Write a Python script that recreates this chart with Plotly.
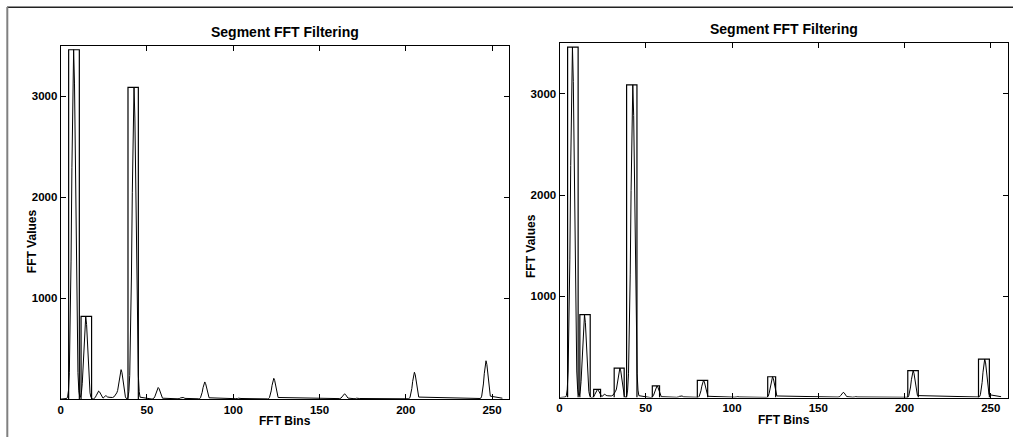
import plotly.graph_objects as go

# ---- data ----
spec_bins = [0, 3, 3.5, 4, 4.5, 5, 5.5, 6, 6.5, 7, 7.5, 8, 8.5, 9, 9.5, 10, 10.5, 11, 11.5,
             12, 12.5, 13, 13.5, 14, 14.5, 15, 15.5, 16, 16.5, 17, 17.5, 18, 18.5,
             19, 19.5, 20, 20.5, 21, 21.5, 22, 22.5, 23, 23.5, 24, 24.5, 25, 25.5, 26, 26.5,
             27, 28, 29, 30, 31, 31.5, 32, 32.5, 33, 33.5, 34, 34.5, 35, 35.5, 36, 36.5, 37,
             37.5, 38, 38.5, 39, 39.5, 40, 40.5, 41, 41.5, 42, 42.5, 43, 43.5, 44, 44.5, 45,
             45.5, 46, 53, 53.5, 54, 54.5, 55, 55.5, 56, 56.5, 57, 57.5, 58, 58.5, 59,
             68, 68.5, 69, 69.5, 70, 70.5, 71, 71.5, 72,
             80, 80.5, 81, 81.5, 82, 82.5, 83, 83.5, 84, 84.5, 85, 85.5, 86,
             101.5, 102, 102.5, 103, 103.5, 104, 104.5,
             120, 120.5, 121, 121.5, 122, 122.5, 123, 123.5, 124, 124.5, 125, 125.5, 126,
             161.5, 162, 162.5, 163, 163.5, 164, 164.5, 165, 165.5, 166, 166.5,
             170, 170.5, 171, 171.5, 172, 172.5, 173,
             201.5, 202, 202.5, 203, 203.5, 204, 204.5, 205, 205.5, 206, 206.5, 207, 207.5,
             243, 243.5, 244, 244.5, 245, 245.5, 246, 246.5, 247, 247.5, 248, 248.5, 249, 256]
spec_vals = [0, 0, 6, 21, 83, 263, 665, 1368, 2293, 3124, 3463, 3124, 2293, 1368, 665, 263, 83, 26, 20,
             62, 157, 324, 543, 740, 820, 740, 543, 324, 157, 62, 20, 5, 0,
             2, 6, 15, 32, 53, 72, 80, 72, 53, 32, 15, 10, 15, 30, 34, 30, 22,
             18, 14, 16, 24, 36, 50, 62, 85, 135, 200, 264, 292, 264, 194, 116, 57, 22,
             7, 2, 19, 74, 235, 593, 1220, 2045, 2786, 3089, 2786, 2045, 1220, 593, 235, 74,
             19, 0, 3, 9, 22, 45, 76, 104, 115, 104, 76, 45, 22, 9, 3,
             3, 7, 12, 16, 18, 16, 12, 7, 3,
             4, 13, 33, 67, 113, 153, 170, 153, 113, 67, 33, 13, 4,
             2, 6, 9, 10, 9, 6, 2,
             5, 16, 40, 81, 136, 186, 206, 186, 136, 81, 40, 16, 5,
             4, 10, 21, 34, 47, 52, 47, 34, 21, 10, 4,
             3, 6, 9, 10, 9, 6, 3,
             6, 20, 51, 105, 176, 240, 266, 240, 176, 105, 51, 20, 6,
             9, 29, 73, 150, 251, 343, 380, 343, 251, 150, 73, 29, 9, 0]

left_box_x0 = [4.6, 11.8, 39.0]
left_box_x1 = [10.8, 17.9, 45.0]
left_box_h = [3463, 820, 3089]

right_box_x0 = [4.7, 11.8, 19.8, 31.7, 38.9, 53.8, 79.9, 120.7, 201.9, 242.9]
right_box_x1 = [10.8, 17.8, 23.8, 37.5, 44.9, 58.0, 85.9, 125.3, 208.0, 249.2]
right_box_h = [3463, 820, 82, 292, 3089, 115, 170, 206, 266, 380]

x_ticks = [0, 50, 100, 150, 200, 250]
y_ticks = [1000, 2000, 3000]
title_text = "Segment FFT Filtering"
xlabel = "FFT Bins"
ylabel = "FFT Values"

W, H = 1013, 437
FONT = "Liberation Sans"


def px(x):
    return x / W


def py(y):
    return 1 - y / H


fig = go.Figure()


def add_boxes(x0s, x1s, hs, xa, ya):
    xs, ys = [], []
    for a, b, h in zip(x0s, x1s, hs):
        xs += [a, a, b, b, None]
        ys += [0, h, h, 0, None]
    fig.add_trace(go.Scatter(x=xs, y=ys, mode="lines", xaxis=xa, yaxis=ya,
                             line=dict(color="black", width=1.2), showlegend=False,
                             hoverinfo="skip"))


for xa, ya, bx0, bx1, bh in [("x", "y", left_box_x0, left_box_x1, left_box_h),
                             ("x2", "y2", right_box_x0, right_box_x1, right_box_h)]:
    add_boxes(bx0, bx1, bh, xa, ya)
    fig.add_trace(go.Scatter(x=spec_bins, y=spec_vals, mode="lines", xaxis=xa, yaxis=ya,
                             line=dict(color="black", width=1), showlegend=False))

tickfont = dict(family=FONT, size=11.5, color="black")
common_x = dict(range=[0, 260], tickvals=x_ticks, ticktext=[f"<b>{v}</b>" for v in x_ticks],
                ticks="inside", ticklen=5, tickcolor="black",
                showline=True, linecolor="black", linewidth=1, mirror="ticks",
                showgrid=False, zeroline=False, tickfont=tickfont, automargin=False)
common_y = dict(range=[0, 3500], tickvals=y_ticks, ticktext=[f"<b>{v}</b>" for v in y_ticks],
                ticks="inside", ticklen=5, tickcolor="black",
                showline=True, linecolor="black", linewidth=1, mirror="ticks",
                showgrid=False, zeroline=False, tickfont=tickfont, automargin=False)

L1, R1, T1, B1 = 60.7, 509.3, 46.0, 399.1
L2, R2, T2, B2 = 559.5, 1008.0, 43.3, 397.6

fig.update_layout(
    width=W, height=H, margin=dict(l=0, r=0, t=0, b=0),
    paper_bgcolor="white", plot_bgcolor="white",
    xaxis=dict(domain=[px(L1), px(R1)], anchor="y", **common_x),
    yaxis=dict(domain=[py(B1), py(T1)], anchor="x", **common_y),
    xaxis2=dict(domain=[px(L2), px(R2)], anchor="y2", **common_x),
    yaxis2=dict(domain=[py(B2), py(T2)], anchor="x2", **common_y),
)

ann = []
for (L, R, T, B, ylab_cy) in [(L1, R1, T1, B1, 241), (L2, R2, T2, B2, 246)]:
    cx = (L + R) / 2
    ann.append(dict(text=title_text, x=px(cx), y=py(T - 14), xref="paper", yref="paper",
                    showarrow=False, xanchor="center", yanchor="middle",
                    font=dict(family=FONT, size=14, color="black", weight="bold")))
    ann.append(dict(text=xlabel, x=px(cx), y=py(B + 22), xref="paper", yref="paper",
                    showarrow=False, xanchor="center", yanchor="middle",
                    font=dict(family=FONT, size=12, color="black", weight="bold")))
    ann.append(dict(text=ylabel, x=px(L - 28.5), y=py(ylab_cy), xref="paper", yref="paper",
                    showarrow=False, xanchor="center", yanchor="middle", textangle=-90,
                    font=dict(family=FONT, size=12, color="black", weight="bold")))
fig.update_layout(annotations=ann)

fig.update_layout(shapes=[
    dict(type="line", xref="paper", yref="paper", x0=px(7), x1=1, y0=py(7.3), y1=py(7.3),
         line=dict(color="#222222", width=1.5)),
    dict(type="line", xref="paper", yref="paper", x0=px(7.3), x1=px(7.3), y0=py(7), y1=0,
         line=dict(color="#808080", width=2)),
])

fig.write_html("out.html")
